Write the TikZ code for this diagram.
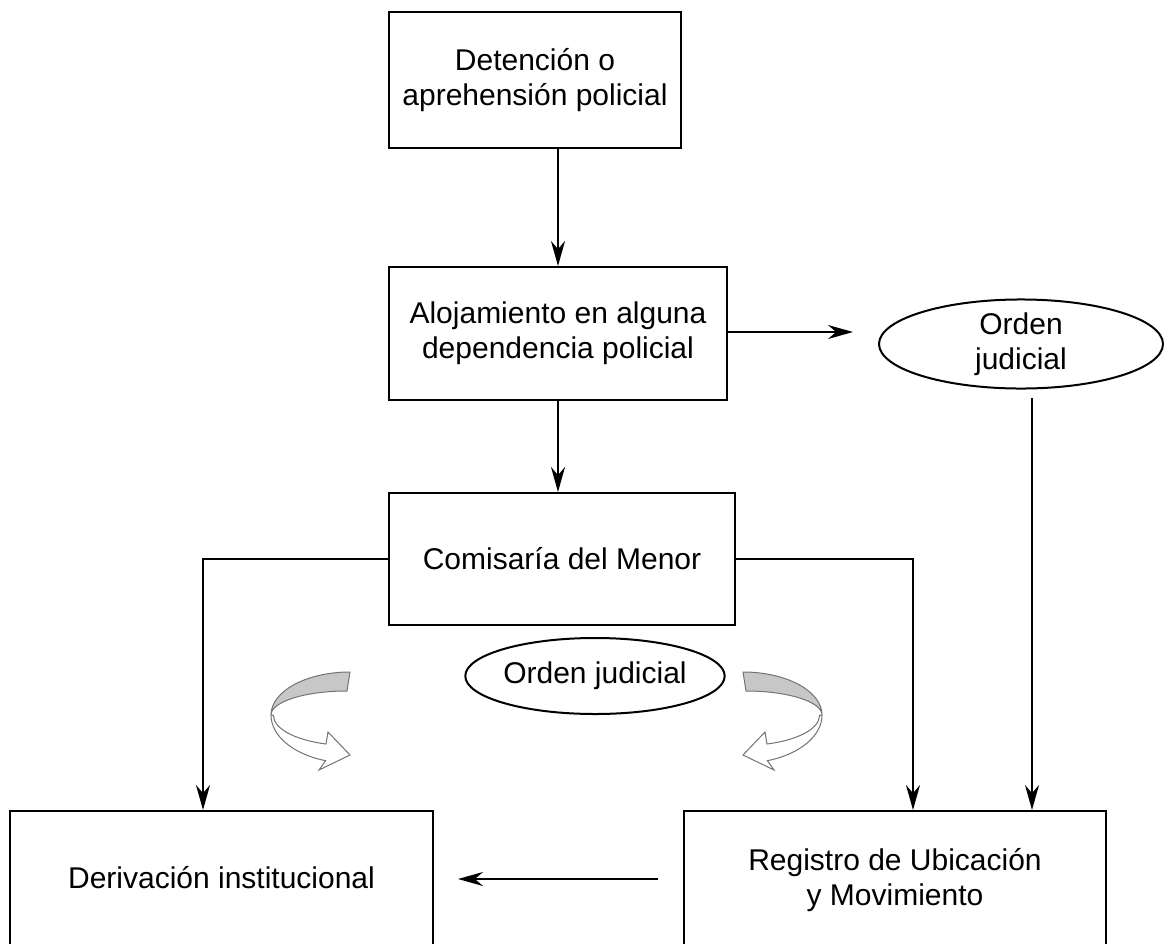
\documentclass[tikz,border=0pt]{standalone}
\usepackage{fontspec}
\setmainfont{Liberation Sans}
\usetikzlibrary{arrows.meta,shapes.geometric}
\tikzset{
  box/.style={draw, line width=2pt, rectangle, align=center, inner sep=0pt,
    font=\fontsize{30}{35}\selectfont},
  oval/.style={draw, line width=2pt, ellipse, align=center, inner sep=0pt,
    font=\fontsize{30}{35}\selectfont},
  arr/.style={line width=2pt, -{Stealth[length=25pt,width=14pt]}},
  curl/.pic={
    \filldraw[fill=black!22, draw=black!55, line width=1pt]
      (0,-43) arc[start angle=-90, end angle=-180, x radius=79, y radius=43]
      arc[start angle=180, end angle=270, x radius=76, y radius=24] -- cycle;
    \filldraw[fill=white, draw=black!55, line width=1pt]
      (-79,0) arc[start angle=180, end angle=108, x radius=79, y radius=48]
      -- (-31,55) -- (0,40) -- (-22,17) -- (-24,29)
      arc[start angle=108, end angle=180, x radius=76, y radius=30] -- cycle;
  }
}
\begin{document}
\begin{tikzpicture}[x=1pt,y=-1pt]
\useasboundingbox (0,0) rectangle (1165,943);
\clip (0,0) rectangle (1165,943);
\node[box, minimum width=292, minimum height=136] (b1) at (535,80) {Detención o\\aprehensión policial};
\node[box, minimum width=338, minimum height=133] (b2) at (558,333.5) {Alojamiento en alguna\\dependencia policial};
\node[box, minimum width=346, minimum height=132] (b3) at (562,559) {Comisaría del Menor};
\node[box, minimum width=423, minimum height=134] (b4) at (221.5,878) {Derivación institucional};
\node[box, minimum width=422, minimum height=138] (b5) at (895,880) {Registro de Ubicación\\y Movimiento};
\node[oval, minimum width=284, minimum height=82] (e1) at (1021,344) {Orden\\judicial};
\node[oval, minimum width=254, minimum height=76] (e2) at (595,676) {Orden judicial};
\coordinate (c1) at (203,559);
\coordinate (c2) at (913,559);
\coordinate (c3) at (853,332);
\coordinate (c4) at (1032,398);
\coordinate (c5) at (658,879);
\coordinate (c6) at (458,879);
\draw[arr] (b1.south -| b2.north) -- (b2.north);
\draw[arr] (b2.south) -- (b2.south |- b3.north);
\draw[arr] (b2.east |- c3) -- (c3);
\draw[arr] (c4) -- (c4 |- b5.north);
\draw[arr] (b3.west) -- (c1) -- (c1 |- b4.north);
\draw[arr] (b3.east) -- (c2) -- (c2 |- b5.north);
\draw[arr] (c5) -- (c6);
\pic at (350,715) {curl};
\pic[xscale=-1] at (743,715) {curl};
\end{tikzpicture}
\end{document}
